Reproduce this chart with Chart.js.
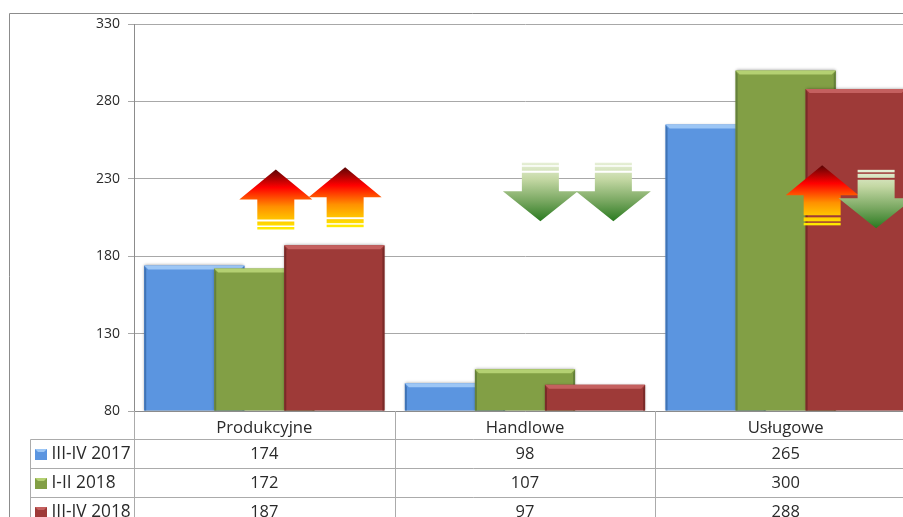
<!DOCTYPE html>
<html><head><meta charset="utf-8">
<style>html,body{margin:0;padding:0;background:#fff;overflow:hidden}
#w{position:relative;width:903px;height:517px;overflow:hidden}
canvas{position:absolute;left:0;top:0}</style>
<script src="https://cdn.jsdelivr.net/npm/chart.js@4/dist/chart.umd.min.js"></script>
</head><body><div id="w"><canvas id="c" width="935" height="540" style="width:935px;height:540px"></canvas></div>
<script>
const categories = ['Produkcyjne','Handlowe','Usługowe'];
const seriesNames = ['III-IV 2017','I-II 2018','III-IV 2018'];
const serie2017b = [174,98,265];
const serie2018a = [172,107,300];
const serie2018b = [187,97,288];
const tickValues = [80,130,180,230,280,330];
const baseValue = 80;
const seriesColors = ['#5b95e0','#829f45','#9e3a38'];
const seriesLight = ['#9cc6f5','#b4d072','#c4605f'];
const seriesDark = ['#3f73b5','#64803a','#7a2a28'];
// trend arrows: category position (in category units), tip value on the y axis, direction
const arrows = [
  {at:0.044,tip:236,up:true},{at:0.31,tip:237.5,up:true},
  {at:1.059,tip:202.6,up:false},{at:1.339,tip:202.6,up:false},
  {at:2.14,tip:238.7,up:true},{at:2.347,tip:198,up:false}
];
const allSeries=[serie2017b,serie2018a,serie2018b];
const FONT='"Open Sans"';

function drawArrow(ctx,x,tipY,up){
  const s=up?1:-1, hw=up?36.5:37.5, sw=18.5, hh=30, total=up?60:58.5;
  const g=ctx.createLinearGradient(0,tipY,0,tipY+s*total);
  if(up){g.addColorStop(0,'#5a0505');g.addColorStop(.3,'#ff0000');g.addColorStop(.62,'#ff9000');g.addColorStop(1,'#ffee00');}
  else{g.addColorStop(0,'#2a7a20');g.addColorStop(.35,'#7aa862');g.addColorStop(.72,'#c4d8a4');g.addColorStop(1,'#e6efd6');}
  ctx.save();ctx.fillStyle=g;
  ctx.beginPath();ctx.moveTo(x,tipY);ctx.lineTo(x+hw,tipY+s*hh);ctx.lineTo(x+sw,tipY+s*hh);
  ctx.lineTo(x+sw,tipY+s*(total-10));ctx.lineTo(x-sw,tipY+s*(total-10));ctx.lineTo(x-sw,tipY+s*hh);ctx.lineTo(x-hw,tipY+s*hh);ctx.closePath();ctx.fill();
  const band=(a,b)=>{const y0=tipY+s*a,y1=tipY+s*b;ctx.fillRect(x-sw,Math.min(y0,y1),sw*2,Math.abs(y1-y0));};
  band(total-8,total-4);band(total-2.5,total);
  ctx.restore();
}

const bevelPlugin={id:'bevel',
  beforeDatasetDraw(){return false;},
  afterDatasetsDraw(chart){
    const ctx=chart.ctx;
    [0,1,2].forEach(i=>{
      const meta=chart.getDatasetMeta(i);
      ctx.save();ctx.shadowColor='rgba(0,0,0,.4)';ctx.shadowBlur=3;
      ctx.beginPath();ctx.rect(0,0,chart.width,chart.chartArea.bottom);ctx.clip();
      meta.controller.draw();ctx.restore();
      ctx.save();
      meta.data.forEach(b=>{
        const l=b.x-b.width/2,r=b.x+b.width/2,t=b.y,bot=b.base;
        const d=4;
        ctx.fillStyle=seriesLight[i];
        ctx.beginPath();ctx.moveTo(l,t);ctx.lineTo(r,t);ctx.lineTo(r-d,t+d);ctx.lineTo(l+d,t+d);ctx.closePath();ctx.fill();
        ctx.fillStyle=seriesDark[i];
        ctx.beginPath();ctx.moveTo(l,t);ctx.lineTo(l+2,t+d);ctx.lineTo(l+2,bot);ctx.lineTo(l,bot);ctx.closePath();ctx.fill();
        ctx.beginPath();ctx.moveTo(r,t);ctx.lineTo(r-2,t+d);ctx.lineTo(r-2,bot);ctx.lineTo(r,bot);ctx.closePath();ctx.fill();
      });
      ctx.restore();
    });
    const xs=chart.scales.x,ys=chart.scales.y;
    arrows.forEach(a=>drawArrow(ctx,xs.getPixelForValue(a.at),ys.getPixelForValue(a.tip),a.up));
  }
};

const tablePlugin={id:'table',
  beforeDraw(chart){
    const ctx=chart.ctx;
    ctx.save();ctx.strokeStyle='#8c8c8c';ctx.lineWidth=1;
    ctx.beginPath();ctx.moveTo(9.5,chart.height);ctx.lineTo(9.5,13.5);ctx.lineTo(chart.width,13.5);ctx.stroke();ctx.restore();
  },
  afterDraw(chart){
    const ctx=chart.ctx,xs=chart.scales.x,a=chart.chartArea;
    const rowLines=[439.5,468.5,497.5,526.5],tableLeft=30.5;
    ctx.save();ctx.strokeStyle='#ababab';ctx.lineWidth=1;ctx.beginPath();
    rowLines.forEach(y=>{ctx.moveTo(tableLeft,y);ctx.lineTo(a.right,y);});
    ctx.moveTo(tableLeft,rowLines[0]);ctx.lineTo(tableLeft,rowLines[3]);
    const edges=[0,1,2,3].map(k=>Math.round(xs.getPixelForValue(k-0.5))+.5);
    edges.forEach(x=>{ctx.moveTo(x,a.bottom);ctx.lineTo(x,rowLines[3]);});
    ctx.stroke();
    ctx.textBaseline='middle';
    seriesNames.forEach((n,i)=>{
      const cy=(rowLines[i]+rowLines[i+1])/2;
      ctx.fillStyle=seriesColors[i];ctx.fillRect(35,cy-5,12,11);
      ctx.fillStyle=seriesLight[i];ctx.beginPath();ctx.moveTo(35,cy-5);ctx.lineTo(47,cy-5);ctx.lineTo(44,cy-2);ctx.lineTo(38,cy-2);ctx.closePath();ctx.fill();
      ctx.fillStyle='#2a2a2a';ctx.textAlign='left';ctx.font='17.3px '+FONT;ctx.fillText(n,51.5,cy);
      ctx.textAlign='center';ctx.font='16.5px '+FONT;
      categories.forEach((c,k)=>ctx.fillText(String(allSeries[i][k]),xs.getPixelForValue(k),cy));
    });
    ctx.restore();
  }
};

new Chart(document.getElementById('c'),{
  type:'bar',
  data:{labels:categories,datasets:seriesNames.map((n,i)=>({label:n,data:allSeries[i],base:baseValue,backgroundColor:seriesColors[i],borderWidth:0,categoryPercentage:0.806,barPercentage:1.43}))},
  options:{
    responsive:false,animation:false,
    layout:{padding:{left:0,right:19,top:24,bottom:0}},
    plugins:{legend:{display:false},title:{display:false},tooltip:{enabled:false}},
    scales:{
      x:{grid:{display:false},border:{color:'#8c8c8c'},
        ticks:{color:'#2a2a2a',font:{family:FONT,size:16.7},padding:-1,maxRotation:0},
        afterFit(s){s.height=129;}},
      y:{min:80,max:330,
        afterBuildTicks(s){s.ticks=tickValues.map(v=>({value:v}));},
        grid:{color:'#a8a8a8',tickLength:6},border:{color:'#8c8c8c'},
        ticks:{color:'#2a2a2a',font:{family:FONT,size:14},padding:8},
        afterFit(s){s.width=134;}}
    }
  },
  plugins:[bevelPlugin,tablePlugin]
});
</script></body></html>
